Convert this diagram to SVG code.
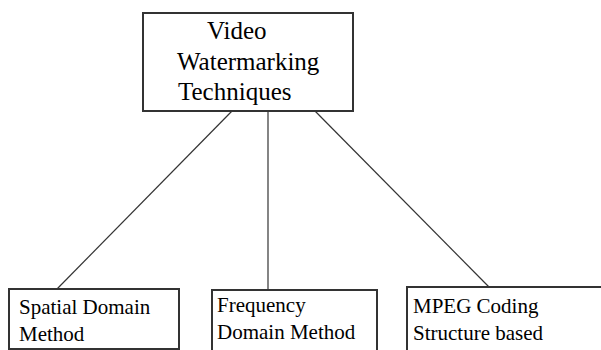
<svg xmlns="http://www.w3.org/2000/svg" width="601" height="350" viewBox="0 0 601 350">
<style>
.box{fill:#fff;stroke:#333;stroke-width:2}
.ln{stroke:#333;stroke-width:1.2;fill:none}
text{font-family:'Liberation Serif','Times New Roman','DejaVu Serif',serif;fill:#000}
.big{font-size:25px}
.sm{font-size:21px}
</style>
<rect width="601" height="350" fill="#fff"/>
<g id="connectors">
<line class="ln" x1="232" y1="111" x2="57" y2="289"/>
<line class="ln" x1="268" y1="111" x2="268" y2="290"/>
<line class="ln" x1="315" y1="111" x2="489" y2="287"/>
</g>
<g id="root">
<rect class="box" x="143" y="13" width="210" height="98"/>
<text class="big" x="207" y="39" font-family="Liberation Serif, serif">Video</text>
<text class="big" x="177" y="70" font-family="Liberation Serif, serif">Watermarking</text>
<text class="big" x="178" y="100" font-family="Liberation Serif, serif">Techniques</text>
</g>
<g id="spatial">
<rect class="box" x="9" y="289" width="170" height="60"/>
<text class="sm" x="19" y="314" font-family="Liberation Serif, serif">Spatial Domain</text>
<text class="sm" x="19" y="341" font-family="Liberation Serif, serif">Method</text>
</g>
<g id="frequency">
<rect class="box" x="212" y="290" width="165" height="62"/>
<text class="sm" x="217" y="312" font-family="Liberation Serif, serif">Frequency</text>
<text class="sm" x="217" y="339" font-family="Liberation Serif, serif">Domain Method</text>
</g>
<g id="mpeg">
<rect class="box" x="407" y="287" width="200" height="70"/>
<text class="sm" x="413" y="313" font-family="Liberation Serif, serif">MPEG Coding</text>
<text class="sm" x="413" y="340" font-family="Liberation Serif, serif">Structure based</text>
</g>
</svg>
